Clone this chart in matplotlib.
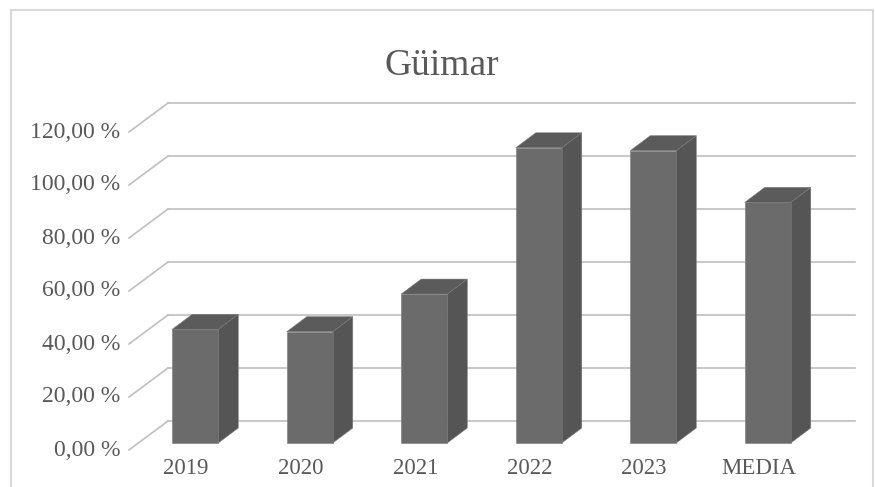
import matplotlib.pyplot as plt
from matplotlib.patches import Polygon, Rectangle

# Güimar - porcentajes por año
years = ["2019", "2020", "2021", "2022", "2023", "MEDIA"]
values = [42.9, 42.0, 56.2, 111.4, 110.3, 90.8]
yticks = [0, 20, 40, 60, 80, 100, 120]
ytick_labels = ["0,00 %", "20,00 %", "40,00 %", "60,00 %", "80,00 %", "100,00 %", "120,00 %"]

W, H = 875, 487
fig = plt.figure(figsize=(W / 100, H / 100), dpi=100)

# outer chart frame
fig.patches.append(Rectangle((11 / W, -0.1), (873 - 11) / W, (H - 10) / H + 0.1,
                             transform=fig.transFigure, fill=False,
                             edgecolor='#d9d9d9', linewidth=1.5))

# axes = back wall of the 3d box
ax = fig.add_axes([168 / W, (H - 421) / H, (855 - 168) / W, (421 - 103) / H])
ax.set_xlim(-0.5, 5.5)
ax.set_ylim(0, 120)
ax.axis('off')

px_x = 6 / (855 - 168)
px_y = 120 / (421 - 103)

grid_c = '#bfbfbf'
txt_c = '#595959'
font = ['Liberation Serif', 'DejaVu Serif']

# gridlines on back wall + slanted lines on left side wall
floor_dx, floor_dy = -39 * px_x, -29 * px_y
for t, lab in zip(yticks, ytick_labels):
    ax.plot([-0.5, 5.5], [t, t], color=grid_c, lw=1.2, clip_on=False, zorder=1)
    ax.plot([-0.5, -0.5 + floor_dx], [t, t + floor_dy], color=grid_c, lw=1.2,
            clip_on=False, zorder=1)
    ax.text(-0.5 + floor_dx - 9 * px_x, t + floor_dy, lab, ha='right', va='center',
            fontsize=17, color=txt_c, family=font)

# 3d bars
w = 46 * px_x
fx, fy = -30 * px_x, -22 * px_y   # front face offset
bx, by = -10 * px_x, -7 * px_y    # back face offset
front_c, side_c, top_c = '#6b6b6b', '#555555', '#5b5b5b'
edge_c = '#797979'

for i, v in enumerate(values):
    xl, xr = i + fx - w / 2, i + fx + w / 2
    bl, br = i + bx - w / 2, i + bx + w / 2
    side = Polygon([(xr, fy), (br, by), (br, by + v), (xr, fy + v)],
                   facecolor=side_c, edgecolor=edge_c, lw=0.4, clip_on=False, zorder=3)
    top = Polygon([(xl, fy + v), (xr, fy + v), (br, by + v), (bl, by + v)],
                  facecolor=top_c, edgecolor=edge_c, lw=0.4, clip_on=False, zorder=3)
    ax.add_patch(side)
    ax.add_patch(top)
ax.bar([i + fx for i in range(len(values))], values, width=w, bottom=fy,
       color=front_c, edgecolor=edge_c, linewidth=0.4, clip_on=False, zorder=4)

# category labels at floor front edge
for i, lab in enumerate(years):
    ax.text(i + floor_dx, floor_dy - 19 * px_y, lab, ha='center', va='center',
            fontsize=16.5, color=txt_c, family=font)

fig.text(442 / W, 1 - 66 / H, "Güimar", ha='center', va='center',
         fontsize=27, color=txt_c, family=font)

fig.savefig("out.png", dpi=100)
